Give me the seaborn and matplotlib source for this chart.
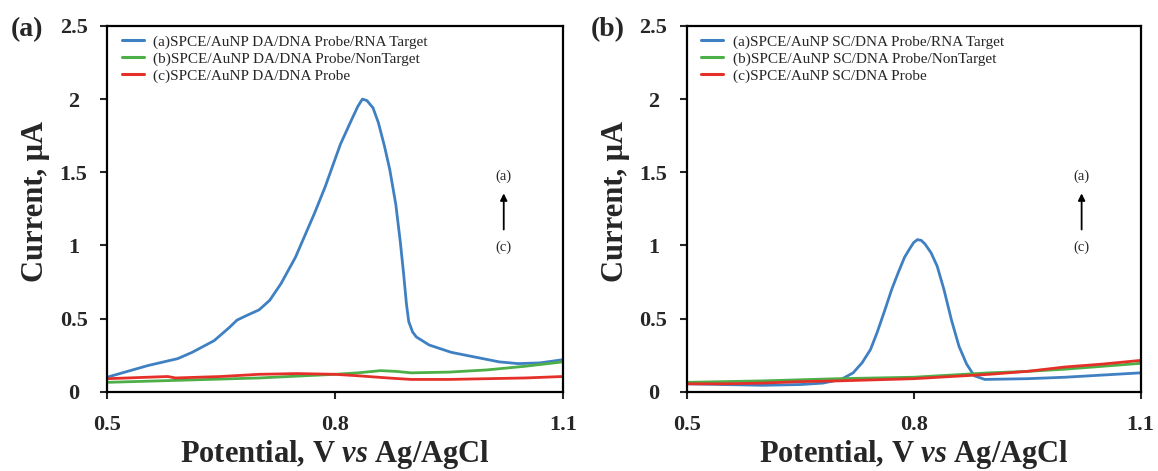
import matplotlib
matplotlib.use("Agg")
import matplotlib.pyplot as plt
import seaborn as sns
import pandas as pd

# ---------------- data ----------------
labels_a = ["(a)SPCE/AuNP DA/DNA Probe/RNA Target",
            "(b)SPCE/AuNP DA/DNA Probe/NonTarget",
            "(c)SPCE/AuNP DA/DNA Probe"]
labels_b = ["(a)SPCE/AuNP SC/DNA Probe/RNA Target",
            "(b)SPCE/AuNP SC/DNA Probe/NonTarget",
            "(c)SPCE/AuNP SC/DNA Probe"]

a_blue_x = [0.500, 0.554, 0.593, 0.612, 0.641, 0.661, 0.671, 0.683, 0.700, 0.714,
            0.729, 0.748, 0.773, 0.787, 0.807, 0.821, 0.830, 0.836, 0.842, 0.850,
            0.857, 0.865, 0.872, 0.880, 0.886, 0.890, 0.894, 0.897, 0.902, 0.907,
            0.924, 0.953, 0.982, 1.016, 1.041, 1.070, 1.100]
a_blue_y = [0.10, 0.18, 0.227, 0.27, 0.35, 0.44, 0.49, 0.52, 0.56, 0.625,
            0.74, 0.92, 1.22, 1.40, 1.69, 1.85, 1.95, 2.00, 1.99, 1.94,
            1.84, 1.68, 1.52, 1.28, 1.02, 0.82, 0.60, 0.48, 0.41, 0.375,
            0.32, 0.27, 0.24, 0.205, 0.193, 0.198, 0.22]
a_green_x = [0.50, 0.60, 0.70, 0.80, 0.83, 0.86, 0.88, 0.90, 0.95, 1.00, 1.05, 1.10]
a_green_y = [0.065, 0.08, 0.095, 0.12, 0.13, 0.145, 0.14, 0.13, 0.135, 0.15, 0.175, 0.205]
a_red_x = [0.50, 0.58, 0.59, 0.65, 0.70, 0.75, 0.80, 0.83, 0.87, 0.90, 0.95, 1.00, 1.05, 1.10]
a_red_y = [0.09, 0.105, 0.095, 0.105, 0.12, 0.125, 0.12, 0.11, 0.095, 0.085, 0.085, 0.09, 0.095, 0.105]

b_blue_x = [0.50, 0.55, 0.60, 0.65, 0.68, 0.704, 0.72, 0.732, 0.743, 0.752, 0.762,
            0.771, 0.78, 0.788, 0.795, 0.800, 0.805, 0.810, 0.815, 0.823, 0.831,
            0.840, 0.85, 0.860, 0.87, 0.88, 0.894, 0.95, 1.00, 1.05, 1.10]
b_blue_y = [0.055, 0.05, 0.045, 0.05, 0.06, 0.085, 0.13, 0.20, 0.29, 0.41, 0.56,
            0.70, 0.82, 0.92, 0.98, 1.02, 1.04, 1.035, 1.01, 0.95, 0.86,
            0.70, 0.49, 0.31, 0.19, 0.11, 0.085, 0.09, 0.10, 0.115, 0.13]
b_green_x = [0.50, 0.60, 0.70, 0.80, 0.85, 0.90, 0.95, 1.00, 1.05, 1.10]
b_green_y = [0.065, 0.075, 0.09, 0.10, 0.115, 0.13, 0.14, 0.155, 0.175, 0.195]
b_red_x = [0.50, 0.55, 0.60, 0.65, 0.70, 0.80, 0.85, 0.90, 0.95, 1.00, 1.05, 1.10]
b_red_y = [0.055, 0.055, 0.06, 0.07, 0.075, 0.09, 0.105, 0.12, 0.14, 0.17, 0.19, 0.215]

x_ticks = [0.5, 0.8, 1.1]
x_ticklabels = ["0.5", "0.8", "1.1"]
y_ticks = [0, 0.5, 1, 1.5, 2, 2.5]
y_ticklabels = ["0", "0.5", "1", "1.5", "2", "2.5"]

colors = ["#3f80c2", "#4caf48", "#e5302a"]

# ---------------- style ----------------
sns.set_theme(style="ticks")
plt.rcParams["font.family"] = ["Liberation Serif", "DejaVu Serif"]
plt.rcParams["mathtext.fontset"] = "custom"
plt.rcParams["mathtext.rm"] = "Liberation Serif:bold"
plt.rcParams["mathtext.it"] = "Liberation Serif:italic:bold"
plt.rcParams["mathtext.bf"] = "Liberation Serif:bold"


def frame(label_list, series):
    rows = []
    for lab, (xs, ys) in zip(label_list, series):
        for x, y in zip(xs, ys):
            rows.append({"x": x, "y": y, "s": lab})
    return pd.DataFrame(rows)


df_a = frame(labels_a, [(a_blue_x, a_blue_y), (a_green_x, a_green_y), (a_red_x, a_red_y)])
df_b = frame(labels_b, [(b_blue_x, b_blue_y), (b_green_x, b_green_y), (b_red_x, b_red_y)])

fig = plt.figure(figsize=(11.58, 4.71), dpi=100)
ax_a = fig.add_axes([0.0924, 0.168, 0.3938, 0.777])
ax_b = fig.add_axes([0.593, 0.168, 0.3920, 0.777])

for ax, df, labs, tag in [(ax_a, df_a, labels_a, "(a)"), (ax_b, df_b, labels_b, "(b)")]:
    sns.lineplot(data=df, x="x", y="y", hue="s", hue_order=labs,
                 palette=colors, linewidth=2.0, ax=ax, sort=False,
                 estimator=None)
    ax.set_xlim(0.5, 1.1)
    ax.set_ylim(0, 2.5)
    ax.set_xticks(x_ticks)
    ax.set_xticklabels(x_ticklabels)
    ax.set_yticks(y_ticks)
    ax.set_yticklabels(y_ticklabels)
    for sp in ax.spines.values():
        sp.set_visible(True)
        sp.set_linewidth(1.6)
        sp.set_color("black")
    ax.tick_params(axis="both", direction="out", length=5, width=1.5,
                   labelsize=16)
    ax.tick_params(axis="x", pad=12)
    ax.tick_params(axis="y", pad=19)
    for t in ax.get_xticklabels():
        t.set_fontweight("bold")
    for t in ax.get_yticklabels():
        t.set_fontweight("bold")
        t.set_horizontalalignment("center")
    ax.set_xlabel(r"Potential, V $\mathit{vs}$ Ag/AgCl", fontsize=22,
                  fontweight="bold", labelpad=1.5)
    ax.set_ylabel("Current, μA", fontsize=22, fontweight="bold")
    ax.yaxis.set_label_coords(-0.125, 0.52)
    leg = ax.legend(loc="upper left", frameon=False, fontsize=11,
                    handlelength=1.45, handletextpad=0.6, labelspacing=0.2,
                    borderaxespad=0.2, bbox_to_anchor=(0.012, 1.0))
    for ln in leg.get_lines():
        ln.set_linewidth(2.2)
    ax.text(1.022, 1.475, "(a)", ha="center", va="center", fontsize=10.5)
    ax.text(1.022, 0.99, "(c)", ha="center", va="center", fontsize=10.5)
    ax.annotate("", xy=(1.022, 1.375), xytext=(1.022, 1.09),
                arrowprops=dict(arrowstyle="-|>", color="black", lw=1.3,
                                mutation_scale=10))
    ax.text(-0.212, 0.99, tag, transform=ax.transAxes, ha="left", va="center",
            fontsize=20, fontweight="bold")

fig.savefig("out.png", dpi=100)
